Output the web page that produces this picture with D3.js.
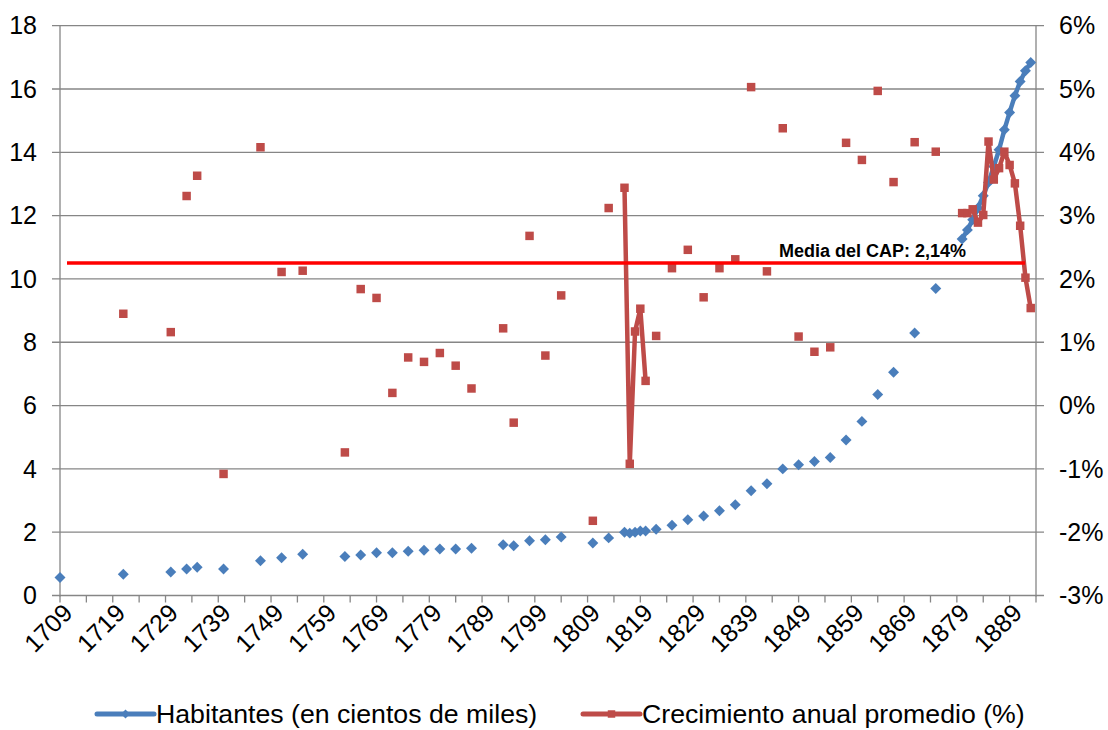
<!DOCTYPE html>
<html>
<head>
<meta charset="utf-8">
<script src="https://cdn.jsdelivr.net/npm/d3@7"></script>
<style>
  body { margin: 0; background: #fff; }
  text { font-family: "Liberation Sans", Arial, sans-serif; fill: #000; }
</style>
</head>
<body>
<svg id="grafico" width="1108" height="730"></svg>
<script>
// Habitantes (en cientos de miles)
const aniosHab = [1709, 1721, 1730, 1733, 1735, 1740, 1747, 1751, 1755, 1763, 1766, 1769, 1772, 1775, 1778, 1781, 1784, 1787,
  1793, 1795, 1798, 1801, 1804, 1810, 1813, 1816, 1817, 1818, 1819, 1820, 1822, 1825, 1828, 1831, 1834, 1837, 1840, 1843,
  1846, 1849, 1852, 1855, 1858, 1861, 1864, 1867, 1871, 1875,
  1880, 1881, 1882, 1883, 1884, 1885, 1886, 1887, 1888, 1889, 1890, 1891, 1892, 1893];
const habitantes = [0.57, 0.67, 0.74, 0.84, 0.89, 0.84, 1.10, 1.19, 1.30, 1.23, 1.28, 1.35, 1.35, 1.40, 1.43, 1.47, 1.47, 1.49,
  1.60, 1.57, 1.73, 1.76, 1.85, 1.66, 1.82, 2.00, 1.97, 2.00, 2.04, 2.04, 2.09, 2.22, 2.39, 2.51, 2.68, 2.87, 3.31, 3.53,
  4.00, 4.13, 4.23, 4.36, 4.91, 5.50, 6.35, 7.05, 8.29, 9.70,
  11.26, 11.55, 11.87, 12.24, 12.63, 13.05, 13.55, 14.08, 14.71, 15.26, 15.79, 16.24, 16.58, 16.84];

// Crecimiento anual promedio (%)
const aniosCrec = [1721, 1730, 1733, 1735, 1740, 1747, 1751, 1755, 1763, 1766, 1769, 1772, 1775, 1778, 1781, 1784, 1787,
  1793, 1795, 1798, 1801, 1804, 1810, 1813, 1816, 1817, 1818, 1819, 1820, 1822, 1825, 1828, 1831, 1834, 1837, 1840, 1843,
  1846, 1849, 1852, 1855, 1858, 1861, 1864, 1867, 1871, 1875,
  1880, 1881, 1882, 1883, 1884, 1885, 1886, 1887, 1888, 1889, 1890, 1891, 1892, 1893];
const crecimiento = [1.45, 1.16, 3.31, 3.63, -1.08, 4.08, 2.11, 2.13, -0.74, 1.84, 1.70, 0.20, 0.76, 0.69, 0.83, 0.63, 0.27,
  1.22, -0.27, 2.68, 0.79, 1.74, -1.82, 3.12, 3.44, -0.92, 1.17, 1.53, 0.39, 1.10, 2.17, 2.46, 1.71, 2.17, 2.31, 5.03, 2.12,
  4.38, 1.09, 0.85, 0.92, 4.15, 3.88, 4.97, 3.53, 4.16, 4.01,
  3.04, 3.04, 3.10, 2.89, 3.01, 4.17, 3.57, 3.75, 4.01, 3.80, 3.51, 2.84, 2.02, 1.54];

const ticksIzq = [0, 2, 4, 6, 8, 10, 12, 14, 16, 18];
const ticksDer = [-3, -2, -1, 0, 1, 2, 3, 4, 5, 6];
const etiquetasX = [1709, 1719, 1729, 1739, 1749, 1759, 1769, 1779, 1789, 1799, 1809, 1819, 1829, 1839, 1849, 1859, 1869, 1879, 1889];
const mediaTexto = "Media del CAP: 2,14%";
const mediaLinea = 2.25; // posición de la línea en el eje derecho

const azul = "#4A7EBB", rojo = "#BE4B48", gris = "#868686";
const svg = d3.select("#grafico");
const izq = 60, der = 1036, arriba = 25.7, abajo = 595.5;

const x = d3.scaleLinear().domain([1709, 1894]).range([izq, der]);
const yIzq = d3.scaleLinear().domain([0, 18]).range([abajo, arriba]);
const yDer = d3.scaleLinear().domain([-3, 6]).range([abajo, arriba]);

// Rejilla horizontal
svg.append("g").selectAll("line").data(ticksIzq).join("line")
  .attr("x1", izq - 8).attr("x2", der + 8)
  .attr("y1", d => yIzq(d)).attr("y2", d => yIzq(d))
  .attr("stroke", gris).attr("stroke-width", 1.3);

// Ejes verticales
[izq, der].forEach(px => {
  svg.append("line").attr("x1", px).attr("x2", px).attr("y1", arriba).attr("y2", abajo + 1)
    .attr("stroke", gris).attr("stroke-width", 1.3);
});

// Marcas del eje X cada 5 años
svg.append("g").selectAll("line").data(d3.range(1709, 1895, 5)).join("line")
  .attr("x1", d => x(d)).attr("x2", d => x(d))
  .attr("y1", abajo).attr("y2", abajo + 7)
  .attr("stroke", gris).attr("stroke-width", 1.3);

// Etiquetas de ejes
svg.append("g").selectAll("text").data(ticksIzq).join("text")
  .attr("x", 37).attr("y", d => yIzq(d)).attr("dy", "0.35em")
  .attr("text-anchor", "end").style("font-size", "25px").text(d => d);

svg.append("g").selectAll("text").data(ticksDer).join("text")
  .attr("x", 1059).attr("y", d => yDer(d)).attr("dy", "0.35em")
  .attr("text-anchor", "start").style("font-size", "25px").text(d => d + "%");

svg.append("g").selectAll("text").data(etiquetasX).join("text")
  .attr("transform", d => `translate(${x(d) + 14},${abajo + 19}) rotate(-45)`)
  .attr("text-anchor", "end").style("font-size", "25px").text(d => d);

// Series anuales con huecos (la línea sólo une años consecutivos)
function serieAnual(anios, valores) {
  const mapa = new Map(anios.map((a, i) => [a, valores[i]]));
  return d3.range(1709, 1895).map(a => ({ anio: a, v: mapa.has(a) ? mapa.get(a) : null }));
}

function dibujarSerie(anios, valores, escala, color, simbolo, tam, rotar) {
  const g = svg.append("g");
  const linea = d3.line().defined(d => d.v != null).x(d => x(d.anio)).y(d => escala(d.v));
  g.append("path").datum(serieAnual(anios, valores))
    .attr("d", linea).attr("fill", "none").attr("stroke", color)
    .attr("stroke-width", 4.5).attr("stroke-linejoin", "round");
  g.selectAll("path.m").data(anios).join("path").attr("class", "m")
    .attr("d", d3.symbol(simbolo, tam))
    .attr("transform", (d, i) => `translate(${x(d)},${escala(valores[i])}) rotate(${rotar})`)
    .attr("fill", color);
}

dibujarSerie(aniosHab, habitantes, yIzq, azul, d3.symbolSquare, 60, 45);
dibujarSerie(aniosCrec, crecimiento, yDer, rojo, d3.symbolSquare, 72, 0);

// Línea de la media
svg.append("line")
  .attr("x1", 67).attr("x2", 1025)
  .attr("y1", yDer(mediaLinea)).attr("y2", yDer(mediaLinea))
  .attr("stroke", "#FF0000").attr("stroke-width", 3.5);
svg.append("text").attr("x", 779).attr("y", yDer(mediaLinea) - 6)
  .style("font-size", "18px").style("font-weight", "bold").text(mediaTexto);

// Leyenda
const leyenda = [
  { nombre: "Habitantes (en cientos de miles)", color: azul, x0: 97, simbolo: d3.symbolSquare, tam: 40, rot: 45 },
  { nombre: "Crecimiento anual promedio (%)", color: rojo, x0: 583, simbolo: d3.symbolSquare, tam: 56, rot: 0 }
];
const ly = 714;
leyenda.forEach(l => {
  svg.append("line").attr("x1", l.x0).attr("x2", l.x0 + 57).attr("y1", ly).attr("y2", ly)
    .attr("stroke", l.color).attr("stroke-width", 5).attr("stroke-linecap", "round");
  svg.append("path").attr("d", d3.symbol(l.simbolo, l.tam))
    .attr("transform", `translate(${l.x0 + 28.5},${ly}) rotate(${l.rot})`).attr("fill", l.color);
  svg.append("text").attr("x", l.x0 + 59).attr("y", ly).attr("dy", "0.35em")
    .style("font-size", "26.7px").text(l.nombre);
});
</script>
</body>
</html>
